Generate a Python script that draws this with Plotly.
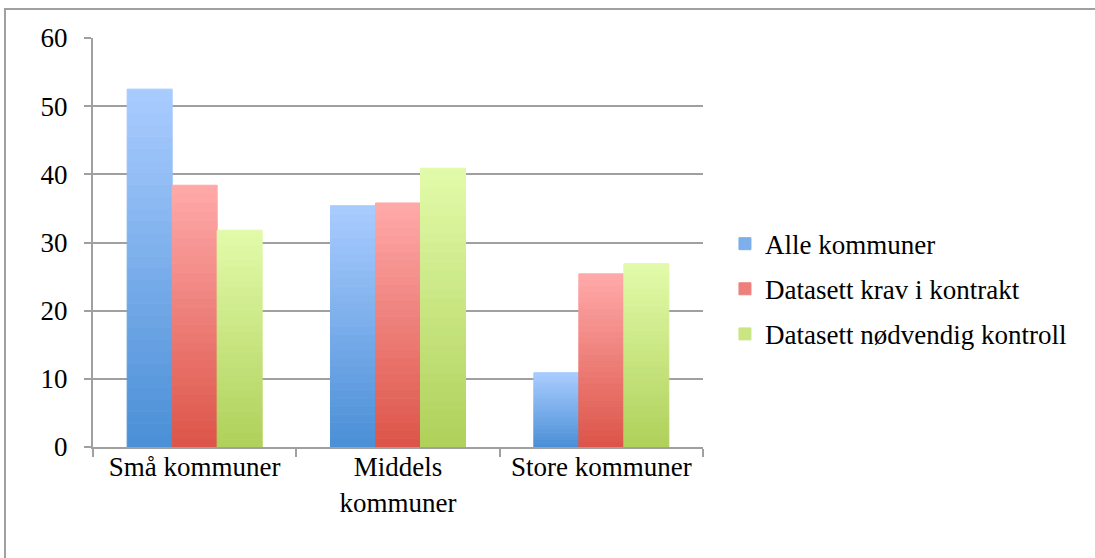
import plotly.graph_objects as go

categories = ["Små kommuner", "Middels<br>kommuner", "Store kommuner"]
series_names = ["Alle kommuner", "Datasett krav i kontrakt", "Datasett nødvendig kontroll"]
alle_kommuner = [52.5, 35.4, 10.9]
krav_i_kontrakt = [38.4, 35.8, 25.4]
nodvendig_kontroll = [31.8, 40.9, 26.9]
y_ticks = [0, 10, 20, 30, 40, 50, 60]

series_values = [alle_kommuner, krav_i_kontrakt, nodvendig_kontroll]
# gradient (bottom colour, top colour) per series
gradients = [
    ((0x4a, 0x8f, 0xd6), (0xaa, 0xcc, 0xff)),
    ((0xdc, 0x54, 0x48), (0xff, 0xaa, 0xaa)),
    ((0xaf, 0xd0, 0x5a), (0xe2, 0xfb, 0xaa)),
]
N = 30
FONT = "'Liberation Serif', Tinos, 'Times New Roman', serif"
FS = 27

def mix(c0, c1, t):
    return "rgb(%d,%d,%d)" % tuple(round(a + (b - a) * t) for a, b in zip(c0, c1))

fig = go.Figure()
for j, (name, vals) in enumerate(zip(series_names, series_values)):
    lo, hi = gradients[j]
    for k in range(N):
        t = (k + 0.5) / N
        col = mix(lo, hi, t)
        fig.add_trace(go.Bar(
            x=categories,
            y=[v / N for v in vals],
            base=[v * k / N for v in vals],
            name=name,
            offsetgroup=str(j),
            legendgroup=name,
            showlegend=(k == N // 2),
            marker=dict(color=col, line=dict(width=1, color=col)),
            hoverinfo="skip",
        ))

fig.update_layout(
    width=1095, height=558,
    margin=dict(l=93, r=392, t=38, b=111),
    paper_bgcolor="white", plot_bgcolor="white",
    barmode="group", bargap=0.336, bargroupgap=0,
    font=dict(family=FONT, size=FS, color="black"),
    legend=dict(
        x=1.036, y=0.386, xanchor="left", yanchor="middle",
        traceorder="grouped", tracegroupgap=7,
        font=dict(family=FONT, size=FS, color="black"),
        itemwidth=30,
    ),
    shapes=[dict(
        type="rect", xref="paper", yref="paper",
        x0=-0.1443, x1=1.8, y0=-0.5, y1=1.0709,
        line=dict(color="#a0a0a0", width=2), fillcolor="rgba(0,0,0,0)",
        layer="below",
    )],
)
fig.update_xaxes(
    type="category", tickson="boundaries",
    showline=True, linecolor="#a0a0a0", linewidth=2,
    ticks="outside", ticklen=8, tickcolor="#a0a0a0", tickwidth=2,
    showgrid=False, ticklabelstandoff=-5,
    tickfont=dict(family=FONT, size=FS, color="black"),
)
fig.update_yaxes(
    range=[0, 60], tickvals=y_ticks,
    showline=True, linecolor="#a0a0a0", linewidth=2,
    ticks="outside", ticklen=7, tickcolor="#a0a0a0", tickwidth=2,
    showgrid=True, gridcolor="#a0a0a0", gridwidth=2,
    zeroline=False, ticklabelstandoff=11,
    tickfont=dict(family=FONT, size=FS, color="black"),
)
fig.write_html("out.html")
